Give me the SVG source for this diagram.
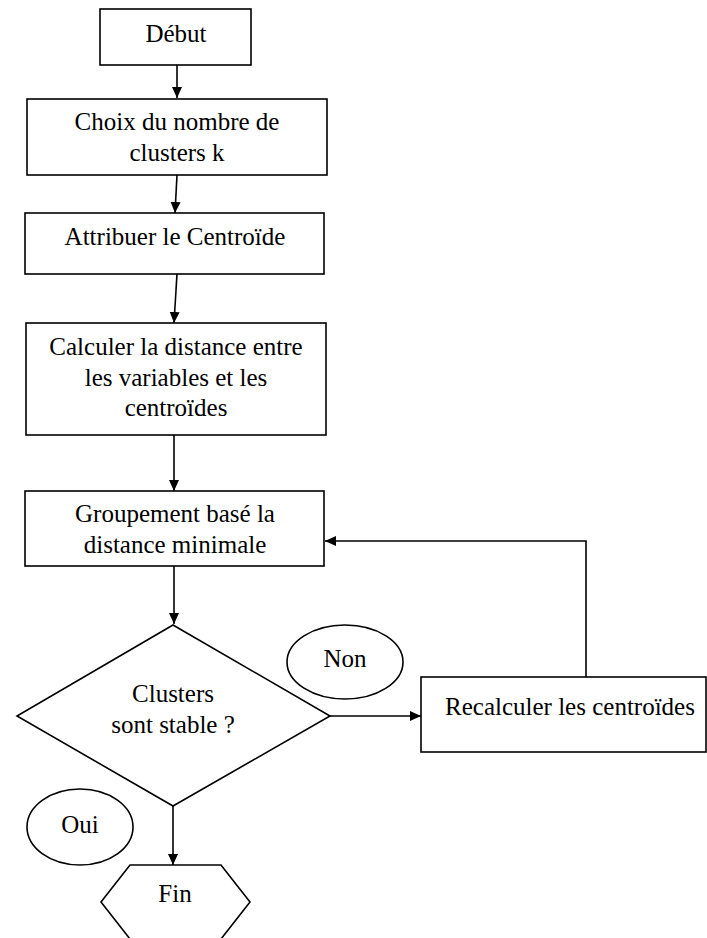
<svg xmlns="http://www.w3.org/2000/svg" width="707" height="938" viewBox="0 0 707 938">
<defs>
<marker id="arr" markerUnits="userSpaceOnUse" markerWidth="12" markerHeight="12" refX="11" refY="6" orient="auto">
<path d="M0,1 L11,6 L0,11 z" fill="#000"/>
</marker>
<style>
.s{fill:#fff;stroke:#000;stroke-width:1.6}
.c{fill:none;stroke:#000;stroke-width:1.6;marker-end:url(#arr)}
text{font-family:'Liberation Serif','DejaVu Serif',serif;font-size:25px;fill:#000;text-anchor:middle}
</style>
</defs>
<rect width="707" height="938" fill="#fff"/>
<g id="connectors">
<path class="c" d="M177,65 L177,98"/>
<path class="c" d="M177,175 L175,213"/>
<path class="c" d="M177,274 L174,323"/>
<path class="c" d="M174,435 L174,491"/>
<path class="c" d="M174,566 L174,624"/>
<path class="c" d="M330,716 L421,716"/>
<path class="c" d="M586,677 L586,541 L325,541"/>
<path class="c" d="M173,806 L173,865"/>
</g>
<g id="debut"><rect class="s" x="100" y="9" width="151" height="56"/><text x="176" y="42">Début</text></g>
<g id="choix"><rect class="s" x="27" y="99" width="300" height="76"/><text x="177" y="130">Choix du nombre de</text><text x="177" y="161">clusters k</text></g>
<g id="attribuer"><rect class="s" x="25" y="213" width="299" height="61"/><text x="175" y="245">Attribuer le Centroïde</text></g>
<g id="calculer"><rect class="s" x="26" y="323" width="300" height="112"/><text x="176" y="355">Calculer la distance entre</text><text x="176" y="386">les variables et les</text><text x="176" y="416">centroïdes</text></g>
<g id="groupement"><rect class="s" x="25" y="491" width="299" height="75"/><text x="175" y="522">Groupement basé la</text><text x="175" y="553">distance minimale</text></g>
<g id="decision"><polygon class="s" points="173,625 330,716 173,806 17,716"/><text x="173" y="702">Clusters</text><text x="173" y="733">sont stable ?</text></g>
<g id="non"><ellipse class="s" cx="345" cy="662" rx="58" ry="37"/><text x="345" y="667">Non</text></g>
<g id="recalculer"><rect class="s" x="421" y="677" width="285" height="75"/><text x="570" y="715">Recalculer les centroïdes</text></g>
<g id="oui"><ellipse class="s" cx="80" cy="827" rx="53" ry="38"/><text x="80" y="833">Oui</text></g>
<g id="fin"><polygon class="s" points="130,865 221,865 250,902 221,939 130,939 101,902"/><text x="175" y="902">Fin</text></g>
</svg>
